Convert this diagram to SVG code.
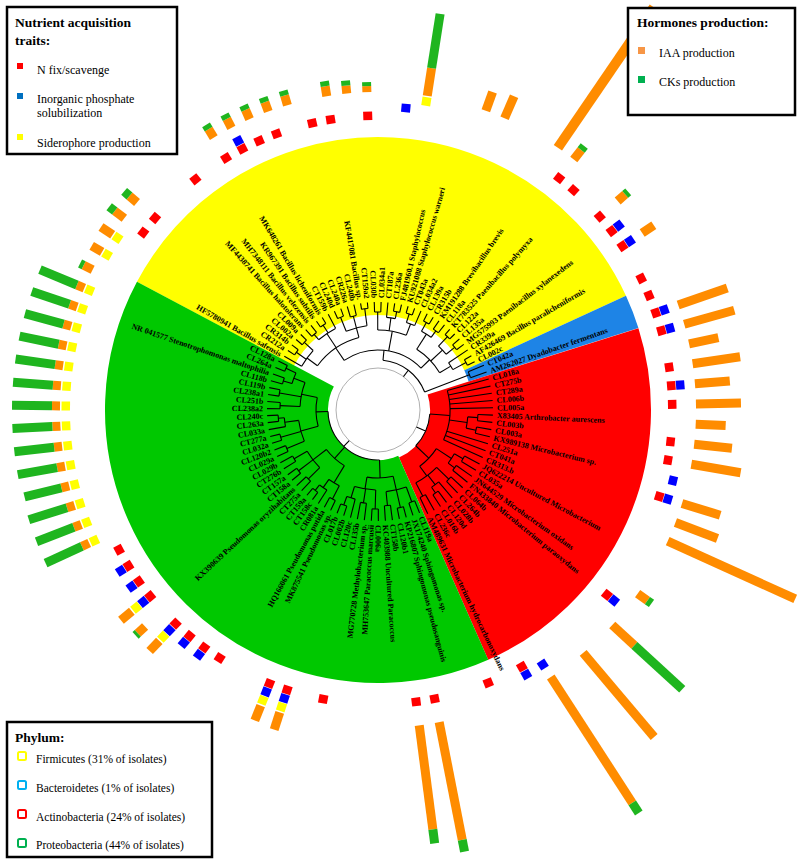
<svg xmlns="http://www.w3.org/2000/svg" width="800" height="863" viewBox="0 0 800 863">
<style>
.lb{font:bold 8px "Liberation Serif","Times New Roman",serif;fill:#000}
.L{text-anchor:end}
.ia{fill:#ff8c00}
.ck{fill:#1fb51f}
.br line,.br circle{stroke:#000;stroke-width:1.1;fill:none}
.lg{font:12px "Liberation Serif","Times New Roman",serif;fill:#000}
.lt{font:bold 13.5px "Liberation Serif","Times New Roman",serif;fill:#000}
.box{fill:#fff;stroke:#000;stroke-width:2.5}
</style>
<defs>
<rect id="N" x="290" y="-4.5" width="8.5" height="9" fill="#f00"/>
<rect id="P" x="299" y="-4.5" width="8.5" height="9" fill="#00f"/>
<rect id="S" x="308" y="-4.5" width="8.5" height="9" fill="#ff0"/>
</defs>
<rect width="800" height="863" fill="#fff"/>
<g id="clades" transform="translate(378 410)" fill="none">
<circle r="184" stroke="#ffff00" stroke-width="178" pathLength="360" stroke-dasharray="127.27 400" transform="rotate(208)"/>
<circle r="184" stroke="#1e84e6" stroke-width="178" pathLength="360" stroke-dasharray="7.28 400" transform="rotate(335.27)"/>
<circle r="162.5" stroke="#ff0000" stroke-width="221" pathLength="360" stroke-dasharray="83.63 400" transform="rotate(342.55)"/>
<circle r="161.5" stroke="#00c800" stroke-width="223" pathLength="360" stroke-dasharray="141.82 400" transform="rotate(426.18)"/>
</g>
<g id="tree" class="br" transform="translate(378 410)">
<circle r="42" style="stroke:#9a9a9a;stroke-width:0.8"/>
<line x1="88" x2="108" transform="rotate(209.82)"/>
<circle r="100" pathLength="360" stroke-dasharray="3.64 400" transform="rotate(213.45)"/><line x1="100" x2="108" transform="rotate(213.45)"/><line x1="100" x2="108" transform="rotate(217.09)"/><line x1="88" x2="100" transform="rotate(215.27)"/>
<circle r="100" pathLength="360" stroke-dasharray="3.63 400" transform="rotate(220.73)"/><line x1="100" x2="108" transform="rotate(220.73)"/><line x1="100" x2="108" transform="rotate(224.36)"/><line x1="88" x2="100" transform="rotate(222.55)"/>
<circle r="88" pathLength="360" stroke-dasharray="12.73 400" transform="rotate(209.82)"/><line x1="75" x2="88" transform="rotate(216.18)"/>
<circle r="99" pathLength="360" stroke-dasharray="3.64 400" transform="rotate(228)"/><line x1="99" x2="108" transform="rotate(228)"/><line x1="99" x2="108" transform="rotate(231.64)"/><line x1="92" x2="99" transform="rotate(229.82)"/>
<circle r="101" pathLength="360" stroke-dasharray="3.64 400" transform="rotate(235.27)"/><line x1="101" x2="108" transform="rotate(235.27)"/><line x1="101" x2="108" transform="rotate(238.91)"/><line x1="92" x2="101" transform="rotate(237.09)"/>
<line x1="92" x2="108" transform="rotate(242.55)"/>
<circle r="92" pathLength="360" stroke-dasharray="12.73 400" transform="rotate(229.82)"/><line x1="75" x2="92" transform="rotate(236.18)"/>
<circle r="100" pathLength="360" stroke-dasharray="3.64 400" transform="rotate(246.18)"/><line x1="100" x2="108" transform="rotate(246.18)"/><line x1="100" x2="108" transform="rotate(249.82)"/><line x1="85" x2="100" transform="rotate(248)"/>
<circle r="97" pathLength="360" stroke-dasharray="3.64 400" transform="rotate(253.45)"/><line x1="97" x2="108" transform="rotate(253.45)"/><line x1="97" x2="108" transform="rotate(257.09)"/><line x1="85" x2="97" transform="rotate(255.27)"/>
<circle r="102" pathLength="360" stroke-dasharray="3.63 400" transform="rotate(260.73)"/><line x1="102" x2="108" transform="rotate(260.73)"/><line x1="102" x2="108" transform="rotate(264.36)"/><line x1="85" x2="102" transform="rotate(262.55)"/>
<circle r="85" pathLength="360" stroke-dasharray="14.55 400" transform="rotate(248)"/><line x1="75" x2="85" transform="rotate(255.27)"/>
<circle r="75" pathLength="360" stroke-dasharray="39.09 400" transform="rotate(216.18)"/><line x1="60" x2="75" transform="rotate(235.73)"/>
<circle r="98" pathLength="360" stroke-dasharray="3.64 400" transform="rotate(268)"/><line x1="98" x2="108" transform="rotate(268)"/><line x1="98" x2="108" transform="rotate(271.64)"/><line x1="80" x2="98" transform="rotate(269.82)"/>
<line x1="93" x2="108" transform="rotate(275.27)"/><circle r="100" pathLength="360" stroke-dasharray="3.64 400" transform="rotate(278.91)"/><line x1="100" x2="108" transform="rotate(278.91)"/><line x1="100" x2="108" transform="rotate(282.55)"/><line x1="93" x2="100" transform="rotate(280.73)"/><circle r="93" pathLength="360" stroke-dasharray="5.46 400" transform="rotate(275.27)"/><line x1="80" x2="93" transform="rotate(278)"/>
<circle r="101" pathLength="360" stroke-dasharray="3.64 400" transform="rotate(286.18)"/><line x1="101" x2="108" transform="rotate(286.18)"/><line x1="101" x2="108" transform="rotate(289.82)"/><line x1="92" x2="101" transform="rotate(288)"/><line x1="92" x2="108" transform="rotate(293.45)"/><circle r="92" pathLength="360" stroke-dasharray="5.45 400" transform="rotate(288)"/><line x1="80" x2="92" transform="rotate(290.73)"/>
<circle r="80" pathLength="360" stroke-dasharray="20.91 400" transform="rotate(269.82)"/><line x1="60" x2="80" transform="rotate(280.27)"/>
<circle r="100" pathLength="360" stroke-dasharray="3.64 400" transform="rotate(297.09)"/><line x1="100" x2="108" transform="rotate(297.09)"/><line x1="100" x2="108" transform="rotate(300.73)"/><line x1="90" x2="100" transform="rotate(298.91)"/>
<circle r="98" pathLength="360" stroke-dasharray="3.64 400" transform="rotate(304.36)"/><line x1="98" x2="108" transform="rotate(304.36)"/><line x1="98" x2="108" transform="rotate(308)"/><line x1="90" x2="98" transform="rotate(306.18)"/>
<circle r="90" pathLength="360" stroke-dasharray="7.27 400" transform="rotate(298.91)"/><line x1="72" x2="90" transform="rotate(302.55)"/>
<circle r="101" pathLength="360" stroke-dasharray="3.63 400" transform="rotate(311.64)"/><line x1="101" x2="108" transform="rotate(311.64)"/><line x1="101" x2="108" transform="rotate(315.27)"/><line x1="88" x2="101" transform="rotate(313.45)"/>
<circle r="99" pathLength="360" stroke-dasharray="3.64 400" transform="rotate(318.91)"/><line x1="99" x2="108" transform="rotate(318.91)"/><line x1="99" x2="108" transform="rotate(322.55)"/><line x1="88" x2="99" transform="rotate(320.73)"/>
<circle r="88" pathLength="360" stroke-dasharray="7.28 400" transform="rotate(313.45)"/><line x1="72" x2="88" transform="rotate(317.09)"/>
<line x1="85" x2="108" transform="rotate(326.18)"/><circle r="100" pathLength="360" stroke-dasharray="3.63 400" transform="rotate(329.82)"/><line x1="100" x2="108" transform="rotate(329.82)"/><line x1="100" x2="108" transform="rotate(333.45)"/><line x1="85" x2="100" transform="rotate(331.64)"/><circle r="85" pathLength="360" stroke-dasharray="5.46 400" transform="rotate(326.18)"/><line x1="72" x2="85" transform="rotate(328.91)"/>
<circle r="72" pathLength="360" stroke-dasharray="26.36 400" transform="rotate(302.55)"/><line x1="60" x2="72" transform="rotate(315.73)"/>
<circle r="60" pathLength="360" stroke-dasharray="80 400" transform="rotate(235.73)"/><line x1="50" x2="60" transform="rotate(275.73)"/>
<circle r="98" pathLength="360" stroke-dasharray="3.64 400" transform="rotate(337.09)"/><line x1="98" x2="115" transform="rotate(337.09)"/><line x1="98" x2="115" transform="rotate(340.73)"/><line x1="50" x2="98" transform="rotate(338.91)"/>
<circle r="50" pathLength="360" stroke-dasharray="63.18 400" transform="rotate(275.73)"/><line x1="42" x2="50" transform="rotate(307.32)"/>
<line x1="72" x2="115" transform="rotate(344.36)"/><line x1="72" x2="115" transform="rotate(348)"/><line x1="72" x2="115" transform="rotate(351.64)"/><line x1="72" x2="115" transform="rotate(355.27)"/><line x1="72" x2="115" transform="rotate(358.91)"/>
<circle r="100" pathLength="360" stroke-dasharray="3.63 400" transform="rotate(362.55)"/><line x1="100" x2="115" transform="rotate(362.55)"/><line x1="100" x2="115" transform="rotate(366.18)"/><line x1="90" x2="100" transform="rotate(364.36)"/>
<circle r="100" pathLength="360" stroke-dasharray="3.63 400" transform="rotate(369.82)"/><line x1="100" x2="115" transform="rotate(369.82)"/><line x1="100" x2="115" transform="rotate(373.45)"/><line x1="90" x2="100" transform="rotate(371.64)"/>
<circle r="90" pathLength="360" stroke-dasharray="7.28 400" transform="rotate(364.36)"/><line x1="72" x2="90" transform="rotate(368)"/>
<line x1="72" x2="115" transform="rotate(377.09)"/><line x1="72" x2="115" transform="rotate(380.73)"/><line x1="72" x2="115" transform="rotate(384.36)"/>
<circle r="72" pathLength="360" stroke-dasharray="40 400" transform="rotate(344.36)"/><line x1="52" x2="72" transform="rotate(364.36)"/>
<circle r="98" pathLength="360" stroke-dasharray="3.64 400" transform="rotate(388)"/><line x1="98" x2="115" transform="rotate(388)"/><line x1="98" x2="115" transform="rotate(391.64)"/><line x1="88" x2="98" transform="rotate(389.82)"/>
<circle r="96" pathLength="360" stroke-dasharray="3.64 400" transform="rotate(395.27)"/><line x1="96" x2="115" transform="rotate(395.27)"/><line x1="96" x2="115" transform="rotate(398.91)"/><line x1="88" x2="96" transform="rotate(397.09)"/>
<circle r="88" pathLength="360" stroke-dasharray="7.27 400" transform="rotate(389.82)"/><line x1="70" x2="88" transform="rotate(393.45)"/>
<circle r="99" pathLength="360" stroke-dasharray="3.63 400" transform="rotate(402.55)"/><line x1="99" x2="115" transform="rotate(402.55)"/><line x1="99" x2="115" transform="rotate(406.18)"/><line x1="82" x2="99" transform="rotate(404.36)"/>
<line x1="94" x2="115" transform="rotate(409.82)"/><circle r="101" pathLength="360" stroke-dasharray="3.64 400" transform="rotate(413.45)"/><line x1="101" x2="115" transform="rotate(413.45)"/><line x1="101" x2="115" transform="rotate(417.09)"/><line x1="94" x2="101" transform="rotate(415.27)"/><circle r="94" pathLength="360" stroke-dasharray="5.45 400" transform="rotate(409.82)"/><line x1="82" x2="94" transform="rotate(412.55)"/>
<circle r="97" pathLength="360" stroke-dasharray="3.63 400" transform="rotate(420.73)"/><line x1="97" x2="115" transform="rotate(420.73)"/><line x1="97" x2="115" transform="rotate(424.36)"/><line x1="82" x2="97" transform="rotate(422.55)"/>
<circle r="82" pathLength="360" stroke-dasharray="18.19 400" transform="rotate(404.36)"/><line x1="70" x2="82" transform="rotate(413.45)"/>
<circle r="70" pathLength="360" stroke-dasharray="20 400" transform="rotate(393.45)"/><line x1="52" x2="70" transform="rotate(403.45)"/>
<circle r="52" pathLength="360" stroke-dasharray="39.09 400" transform="rotate(364.36)"/><line x1="42" x2="52" transform="rotate(383.91)"/>
<circle r="98" pathLength="360" stroke-dasharray="3.64 400" transform="rotate(428)"/><line x1="98" x2="111" transform="rotate(428)"/><line x1="98" x2="111" transform="rotate(431.64)"/><line x1="82" x2="98" transform="rotate(429.82)"/>
<circle r="100" pathLength="360" stroke-dasharray="3.64 400" transform="rotate(435.27)"/><line x1="100" x2="111" transform="rotate(435.27)"/><line x1="100" x2="111" transform="rotate(438.91)"/><line x1="82" x2="100" transform="rotate(437.09)"/>
<circle r="96" pathLength="360" stroke-dasharray="3.63 400" transform="rotate(442.55)"/><line x1="96" x2="111" transform="rotate(442.55)"/><line x1="96" x2="111" transform="rotate(446.18)"/><line x1="82" x2="96" transform="rotate(444.36)"/>
<circle r="82" pathLength="360" stroke-dasharray="14.54 400" transform="rotate(429.82)"/><line x1="68" x2="82" transform="rotate(437.09)"/>
<circle r="99" pathLength="360" stroke-dasharray="3.63 400" transform="rotate(449.82)"/><line x1="99" x2="111" transform="rotate(449.82)"/><line x1="99" x2="111" transform="rotate(453.45)"/><line x1="80" x2="99" transform="rotate(451.64)"/>
<circle r="94" pathLength="360" stroke-dasharray="3.64 400" transform="rotate(457.09)"/><line x1="94" x2="111" transform="rotate(457.09)"/><line x1="94" x2="111" transform="rotate(460.73)"/><line x1="80" x2="94" transform="rotate(458.91)"/>
<line x1="92" x2="111" transform="rotate(464.36)"/><circle r="101" pathLength="360" stroke-dasharray="3.64 400" transform="rotate(468)"/><line x1="101" x2="111" transform="rotate(468)"/><line x1="101" x2="111" transform="rotate(471.64)"/><line x1="92" x2="101" transform="rotate(469.82)"/><circle r="92" pathLength="360" stroke-dasharray="5.46 400" transform="rotate(464.36)"/><line x1="80" x2="92" transform="rotate(467.09)"/>
<circle r="80" pathLength="360" stroke-dasharray="15.45 400" transform="rotate(451.64)"/><line x1="68" x2="80" transform="rotate(459.36)"/>
<circle r="68" pathLength="360" stroke-dasharray="22.27 400" transform="rotate(437.09)"/><line x1="50" x2="68" transform="rotate(448.23)"/>
<circle r="100" pathLength="360" stroke-dasharray="3.64 400" transform="rotate(475.27)"/><line x1="100" x2="111" transform="rotate(475.27)"/><line x1="100" x2="111" transform="rotate(478.91)"/><line x1="85" x2="100" transform="rotate(477.09)"/>
<line x1="95" x2="111" transform="rotate(482.55)"/><circle r="102" pathLength="360" stroke-dasharray="3.64 400" transform="rotate(486.18)"/><line x1="102" x2="111" transform="rotate(486.18)"/><line x1="102" x2="111" transform="rotate(489.82)"/><line x1="95" x2="102" transform="rotate(488)"/><circle r="95" pathLength="360" stroke-dasharray="5.45 400" transform="rotate(482.55)"/><line x1="85" x2="95" transform="rotate(485.27)"/>
<circle r="85" pathLength="360" stroke-dasharray="8.18 400" transform="rotate(477.09)"/><line x1="65" x2="85" transform="rotate(481.18)"/>
<circle r="98" pathLength="360" stroke-dasharray="3.64 400" transform="rotate(493.45)"/><line x1="98" x2="111" transform="rotate(493.45)"/><line x1="98" x2="111" transform="rotate(497.09)"/><line x1="82" x2="98" transform="rotate(495.27)"/>
<circle r="100" pathLength="360" stroke-dasharray="3.63 400" transform="rotate(500.73)"/><line x1="100" x2="111" transform="rotate(500.73)"/><line x1="100" x2="111" transform="rotate(504.36)"/><line x1="82" x2="100" transform="rotate(502.55)"/>
<circle r="97" pathLength="360" stroke-dasharray="3.64 400" transform="rotate(508)"/><line x1="97" x2="111" transform="rotate(508)"/><line x1="97" x2="111" transform="rotate(511.64)"/><line x1="82" x2="97" transform="rotate(509.82)"/>
<circle r="82" pathLength="360" stroke-dasharray="14.55 400" transform="rotate(495.27)"/><line x1="65" x2="82" transform="rotate(502.55)"/>
<circle r="65" pathLength="360" stroke-dasharray="21.37 400" transform="rotate(481.18)"/><line x1="50" x2="65" transform="rotate(491.86)"/>
<circle r="99" pathLength="360" stroke-dasharray="3.64 400" transform="rotate(515.27)"/><line x1="99" x2="111" transform="rotate(515.27)"/><line x1="99" x2="111" transform="rotate(518.91)"/><line x1="80" x2="99" transform="rotate(517.09)"/>
<circle r="101" pathLength="360" stroke-dasharray="3.63 400" transform="rotate(522.55)"/><line x1="101" x2="111" transform="rotate(522.55)"/><line x1="101" x2="111" transform="rotate(526.18)"/><line x1="80" x2="101" transform="rotate(524.36)"/>
<line x1="94" x2="111" transform="rotate(529.82)"/><circle r="100" pathLength="360" stroke-dasharray="3.64 400" transform="rotate(533.45)"/><line x1="100" x2="111" transform="rotate(533.45)"/><line x1="100" x2="111" transform="rotate(537.09)"/><line x1="94" x2="100" transform="rotate(535.27)"/><circle r="94" pathLength="360" stroke-dasharray="5.45 400" transform="rotate(529.82)"/><line x1="80" x2="94" transform="rotate(532.55)"/>
<circle r="80" pathLength="360" stroke-dasharray="15.46 400" transform="rotate(517.09)"/><line x1="62" x2="80" transform="rotate(524.82)"/>
<circle r="98" pathLength="360" stroke-dasharray="3.63 400" transform="rotate(540.73)"/><line x1="98" x2="111" transform="rotate(540.73)"/><line x1="98" x2="111" transform="rotate(544.36)"/><line x1="78" x2="98" transform="rotate(542.55)"/>
<circle r="100" pathLength="360" stroke-dasharray="3.64 400" transform="rotate(548)"/><line x1="100" x2="111" transform="rotate(548)"/><line x1="100" x2="111" transform="rotate(551.64)"/><line x1="78" x2="100" transform="rotate(549.82)"/>
<circle r="99" pathLength="360" stroke-dasharray="3.64 400" transform="rotate(555.27)"/><line x1="99" x2="111" transform="rotate(555.27)"/><line x1="99" x2="111" transform="rotate(558.91)"/><line x1="90" x2="99" transform="rotate(557.09)"/>
<circle r="101" pathLength="360" stroke-dasharray="3.63 400" transform="rotate(562.55)"/><line x1="101" x2="111" transform="rotate(562.55)"/><line x1="101" x2="111" transform="rotate(566.18)"/><line x1="90" x2="101" transform="rotate(564.36)"/>
<circle r="90" pathLength="360" stroke-dasharray="7.27 400" transform="rotate(557.09)"/><line x1="78" x2="90" transform="rotate(560.73)"/>
<circle r="78" pathLength="360" stroke-dasharray="18.18 400" transform="rotate(542.55)"/><line x1="62" x2="78" transform="rotate(551.64)"/>
<circle r="62" pathLength="360" stroke-dasharray="26.82 400" transform="rotate(524.82)"/><line x1="50" x2="62" transform="rotate(538.23)"/>
<circle r="50" pathLength="360" stroke-dasharray="90 400" transform="rotate(448.23)"/><line x1="42" x2="50" transform="rotate(493.23)"/>
</g>
<g id="leaves" transform="translate(378 410)">
<g id="n0" transform="rotate(209.82)"><text class="lb L" transform="rotate(180)" x="-112" y="2.8">HF5780941 Bacillus safensis</text><use href="#S"/><rect class="ia" x="318" y="-4.5" width="12" height="9"/></g>
<g id="n1" transform="rotate(213.45)"><text class="lb L" transform="rotate(180)" x="-112" y="2.8">CR212a</text><use href="#S"/><rect class="ia" x="318" y="-4.5" width="14" height="9"/></g>
<g id="n2" transform="rotate(217.09)"><text class="lb L" transform="rotate(180)" x="-112" y="2.8">CR314b</text><use href="#N"/><rect class="ia" x="318" y="-4.5" width="12" height="9"/><rect class="ck" x="330" y="-4.5" width="7" height="9"/></g>
<g id="n3" transform="rotate(220.73)"><text class="lb L" transform="rotate(180)" x="-112" y="2.8">CL002a</text><use href="#N"/><rect class="ia" x="318" y="-4.5" width="10" height="9"/><rect class="ck" x="328" y="-4.5" width="7" height="9"/></g>
<g id="n4" transform="rotate(224.36)"><text class="lb L" transform="rotate(180)" x="-112" y="2.8">CL009a</text></g>
<g id="n5" transform="rotate(228)"><text class="lb L" transform="rotate(180)" x="-112" y="2.8">MF4438741 Bacillus halotolerans</text></g>
<g id="n6" transform="rotate(231.64)"><text class="lb L" transform="rotate(180)" x="-112" y="2.8">MH7348111 Bacillus velezensis</text><use href="#N"/></g>
<g id="n7" transform="rotate(235.27)"><text class="lb L" transform="rotate(180)" x="-112" y="2.8">KR967391 Bacillus subtilis</text></g>
<g id="n8" transform="rotate(238.91)"><text class="lb L" transform="rotate(180)" x="-112" y="2.8">MK648261 Bacillus licheniformis</text><use href="#N"/><rect class="ia" x="318" y="-4.5" width="10" height="9"/><rect class="ck" x="328" y="-4.5" width="5" height="9"/></g>
<g id="n9" transform="rotate(242.55)"><text class="lb L" transform="rotate(180)" x="-112" y="2.8">CT159b</text><use href="#N"/><use href="#P"/><rect class="ia" x="318" y="-4.5" width="10" height="9"/><rect class="ck" x="328" y="-4.5" width="5" height="9"/></g>
<g id="n10" transform="rotate(246.18)"><text class="lb L" transform="rotate(180)" x="-112" y="2.8">CL240d</text><use href="#N"/><rect class="ia" x="318" y="-4.5" width="10" height="9"/><rect class="ck" x="328" y="-4.5" width="5" height="9"/></g>
<g id="n11" transform="rotate(249.82)"><text class="lb L" transform="rotate(180)" x="-112" y="2.8">CL240a</text><use href="#N"/><rect class="ia" x="318" y="-4.5" width="10" height="9"/><rect class="ck" x="328" y="-4.5" width="5" height="9"/></g>
<g id="n12" transform="rotate(253.45)"><text class="lb L" transform="rotate(180)" x="-112" y="2.8">CR226a</text><rect class="ia" x="318" y="-4.5" width="10" height="9"/><rect class="ck" x="328" y="-4.5" width="5" height="9"/></g>
<g id="n13" transform="rotate(257.09)"><text class="lb L" transform="rotate(180)" x="-112" y="2.8">CL240b</text><use href="#N"/></g>
<g id="n14" transform="rotate(260.73)"><text class="lb L" transform="rotate(180)" x="-112" y="2.8">KF4417081 Bacillus sp.</text><use href="#N"/><rect class="ia" x="318" y="-4.5" width="10" height="9"/><rect class="ck" x="328" y="-4.5" width="5" height="9"/></g>
<g id="n15" transform="rotate(264.36)"><text class="lb L" transform="rotate(180)" x="-112" y="2.8">CT159a2</text><rect class="ia" x="318" y="-4.5" width="8" height="9"/><rect class="ck" x="326" y="-4.5" width="5" height="9"/></g>
<g id="n16" transform="rotate(268)"><text class="lb L" transform="rotate(180)" x="-112" y="2.8">CL030b</text><use href="#N"/><rect class="ia" x="318" y="-4.5" width="6" height="9"/><rect class="ck" x="324" y="-4.5" width="4" height="9"/></g>
<g id="n17" transform="rotate(271.64)"><text class="lb" x="112" y="2.8">CL034a1</text></g>
<g id="n18" transform="rotate(275.27)"><text class="lb" x="112" y="2.8">CT187a</text><use href="#P"/></g>
<g id="n19" transform="rotate(278.91)"><text class="lb" x="112" y="2.8">CL236a</text><use href="#S"/><rect class="ia" x="318" y="-4.5" width="28" height="9"/><rect class="ck" x="346" y="-4.5" width="55" height="9"/></g>
<g id="n20" transform="rotate(282.55)"><text class="lb" x="112" y="2.8">FJ481960.1 Staphylococcus</text></g>
<g id="n21" transform="rotate(286.18)"><text class="lb" x="112" y="2.8">KU921088 Staphylococcus warneri</text></g>
<g id="n22" transform="rotate(289.82)"><text class="lb" x="112" y="2.8">CT043a</text><rect class="ia" x="318" y="-4.5" width="20" height="9"/></g>
<g id="n23" transform="rotate(293.45)"><text class="lb" x="112" y="2.8">CL034a2</text><rect class="ia" x="318" y="-4.5" width="24" height="9"/></g>
<g id="n24" transform="rotate(297.09)"><text class="lb" x="112" y="2.8">CL139a</text></g>
<g id="n25" transform="rotate(300.73)"><text class="lb" x="112" y="2.8">CR315b</text></g>
<g id="n26" transform="rotate(304.36)"><text class="lb" x="112" y="2.8">KM191288 Brevibacillus brevis</text><rect class="ia" x="318" y="-4.5" width="170" height="10"/></g>
<g id="n27" transform="rotate(308)"><text class="lb" x="112" y="2.8">CL118a</text><use href="#N"/><rect class="ia" x="318" y="-4.5" width="12" height="9"/><rect class="ck" x="330" y="-4.5" width="5" height="9"/></g>
<g id="n28" transform="rotate(311.64)"><text class="lb" x="112" y="2.8">KT783525 Paenibacillus polymyxa</text><use href="#N"/></g>
<g id="n29" transform="rotate(315.27)"><text class="lb" x="112" y="2.8">CL122a</text></g>
<g id="n30" transform="rotate(318.91)"><text class="lb" x="112" y="2.8">CL135a</text><use href="#N"/><rect class="ia" x="318" y="-4.5" width="10" height="9"/><rect class="ck" x="328" y="-4.5" width="4" height="9"/></g>
<g id="n31" transform="rotate(322.55)"><text class="lb" x="112" y="2.8">MG575993 Paenibacillus xylanexedens</text><use href="#N"/><use href="#P"/></g>
<g id="n32" transform="rotate(326.18)"><text class="lb" x="112" y="2.8">CR339a</text><use href="#N"/><use href="#P"/><rect class="ia" x="318" y="-4.5" width="14" height="9"/></g>
<g id="n33" transform="rotate(329.82)"><text class="lb" x="112" y="2.8">AF426469 Bacillus paralicheniformis</text></g>
<g id="n34" transform="rotate(333.45)"><text class="lb" x="112" y="2.8">CL002c</text><use href="#N"/></g>
<g id="n35" transform="rotate(337.09)"><text class="lb" x="119" y="2.8">CT042a</text><use href="#N"/></g>
<g id="n36" transform="rotate(340.73)"><text class="lb" x="119" y="2.8">AM262027 Dyadobacter fermentans</text><use href="#N"/><use href="#P"/><rect class="ia" x="318" y="-4.5" width="52" height="9"/></g>
<g id="n37" transform="rotate(344.36)"><text class="lb" x="119" y="2.8">CL018a</text><use href="#N"/><use href="#P"/><rect class="ia" x="318" y="-4.5" width="52" height="9"/></g>
<g id="n38" transform="rotate(348)"><text class="lb" x="119" y="2.8">CT275b</text><rect class="ia" x="318" y="-4.5" width="30" height="9"/></g>
<g id="n39" transform="rotate(351.64)"><text class="lb" x="119" y="2.8">CT289a</text><use href="#N"/><rect class="ia" x="318" y="-4.5" width="48" height="9"/></g>
<g id="n40" transform="rotate(355.27)"><text class="lb" x="119" y="2.8">CL006b</text><use href="#N"/><use href="#P"/><rect class="ia" x="318" y="-4.5" width="35" height="9"/></g>
<g id="n41" transform="rotate(358.91)"><text class="lb" x="119" y="2.8">CL005a</text><use href="#N"/><rect class="ia" x="318" y="-4.5" width="45" height="9"/></g>
<g id="n42" transform="rotate(362.55)"><text class="lb" x="119" y="2.8">X83405 Arthrobacter aurescens</text><rect class="ia" x="318" y="-4.5" width="30" height="9"/></g>
<g id="n43" transform="rotate(366.18)"><text class="lb" x="119" y="2.8">CL003b</text><use href="#N"/><rect class="ia" x="318" y="-4.5" width="38" height="9"/></g>
<g id="n44" transform="rotate(369.82)"><text class="lb" x="119" y="2.8">CL003a</text><use href="#N"/><rect class="ia" x="318" y="-4.5" width="50" height="9"/></g>
<g id="n45" transform="rotate(373.45)"><text class="lb" x="119" y="2.8">KX989138 Microbacterium sp.</text><use href="#P"/></g>
<g id="n46" transform="rotate(377.09)"><text class="lb" x="119" y="2.8">CL251a</text><use href="#N"/><use href="#P"/><rect class="ia" x="318" y="-4.5" width="40" height="9"/></g>
<g id="n47" transform="rotate(380.73)"><text class="lb" x="119" y="2.8">CT041a</text><rect class="ia" x="318" y="-4.5" width="45" height="9"/></g>
<g id="n48" transform="rotate(384.36)"><text class="lb" x="119" y="2.8">CR313.b</text><rect class="ia" x="318" y="-4.5" width="140" height="9"/></g>
<g id="n49" transform="rotate(388)"><text class="lb" x="119" y="2.8">JQ622214 Uncultured Microbacterium</text></g>
<g id="n50" transform="rotate(391.64)"><text class="lb" x="119" y="2.8">CL035a</text></g>
<g id="n51" transform="rotate(395.27)"><text class="lb" x="119" y="2.8">JN644529 Microbacterium oxidans</text><rect class="ia" x="318" y="-4.5" width="12" height="9"/><rect class="ck" x="330" y="-4.5" width="5" height="9"/></g>
<g id="n52" transform="rotate(398.91)"><text class="lb" x="119" y="2.8">FN433840 Microbacterium paraoxydans</text><use href="#N"/><use href="#P"/></g>
<g id="n53" transform="rotate(402.55)"><text class="lb" x="119" y="2.8">CL064b</text><rect class="ia" x="318" y="-4.5" width="30" height="9"/><rect class="ck" x="348" y="-4.5" width="65" height="9"/></g>
<g id="n54" transform="rotate(406.18)"><text class="lb" x="119" y="2.8">CL264b</text></g>
<g id="n55" transform="rotate(409.82)"><text class="lb" x="119" y="2.8">CL028b</text><rect class="ia" x="318" y="-4.5" width="110" height="9"/></g>
<g id="n56" transform="rotate(413.45)"><text class="lb" x="119" y="2.8">CL120d</text></g>
<g id="n57" transform="rotate(417.09)"><text class="lb" x="119" y="2.8">CL016b</text><use href="#P"/><rect class="ia" x="318" y="-4.5" width="150" height="9"/><rect class="ck" x="468" y="-4.5" width="12" height="9"/></g>
<g id="n58" transform="rotate(420.73)"><text class="lb" x="119" y="2.8">CL236c</text><use href="#N"/><use href="#P"/></g>
<g id="n59" transform="rotate(424.36)"><text class="lb" x="119" y="2.8">AM489631 Microbacterium hydrocarbonoxydans</text></g>
<g id="n60" transform="rotate(428)"><text class="lb" x="115" y="2.8">CL119a</text><use href="#N"/></g>
<g id="n61" transform="rotate(431.64)"><text class="lb" x="115" y="2.8">JX174240 Sphingomonas sp.</text></g>
<g id="n62" transform="rotate(435.27)"><text class="lb" x="115" y="2.8">KP216807 Sphingomonas pseudosanguinis</text></g>
<g id="n63" transform="rotate(438.91)"><text class="lb" x="115" y="2.8">CL120b1</text><use href="#N"/><rect class="ia" x="318" y="-4.5" width="120" height="9"/><rect class="ck" x="438" y="-4.5" width="12" height="9"/></g>
<g id="n64" transform="rotate(442.55)"><text class="lb" x="115" y="2.8">CT158b</text><use href="#N"/><rect class="ia" x="318" y="-4.5" width="105" height="9"/><rect class="ck" x="423" y="-4.5" width="14" height="9"/></g>
<g id="n65" transform="rotate(446.18)"><text class="lb" x="115" y="2.8">KC403988 Uncultured Paracoccus</text></g>
<g id="n66" transform="rotate(449.82)"><text class="lb" x="115" y="2.8">CL006a</text></g>
<g id="n67" transform="rotate(453.45)"><text class="lb L" transform="rotate(180)" x="-115" y="2.8">MH753647 Paracoccus marcusii</text></g>
<g id="n68" transform="rotate(457.09)"><text class="lb L" transform="rotate(180)" x="-115" y="2.8">MG770728 Methylobacterium sp.</text></g>
<g id="n69" transform="rotate(460.73)"><text class="lb L" transform="rotate(180)" x="-115" y="2.8">CL135b</text><use href="#N"/></g>
<g id="n70" transform="rotate(464.36)"><text class="lb L" transform="rotate(180)" x="-115" y="2.8">CL120c</text></g>
<g id="n71" transform="rotate(468)"><text class="lb L" transform="rotate(180)" x="-115" y="2.8">CL002b</text><use href="#N"/><use href="#P"/><use href="#S"/><rect class="ia" x="318" y="-4.5" width="18" height="9"/></g>
<g id="n72" transform="rotate(471.64)"><text class="lb L" transform="rotate(180)" x="-115" y="2.8">CL017b</text><use href="#N"/><use href="#P"/><use href="#S"/><rect class="ia" x="318" y="-4.5" width="16" height="9"/></g>
<g id="n73" transform="rotate(475.27)"><text class="lb L" transform="rotate(180)" x="-115" y="2.8">MK875541 Pseudomonas sp.</text></g>
<g id="n74" transform="rotate(478.91)"><text class="lb L" transform="rotate(180)" x="-115" y="2.8">HQ166061 Pseudomonas putida</text></g>
<g id="n75" transform="rotate(482.55)"><text class="lb L" transform="rotate(180)" x="-115" y="2.8">CR081a</text><use href="#N"/></g>
<g id="n76" transform="rotate(486.18)"><text class="lb L" transform="rotate(180)" x="-115" y="2.8">CT158c</text><use href="#N"/><use href="#P"/></g>
<g id="n77" transform="rotate(489.82)"><text class="lb L" transform="rotate(180)" x="-115" y="2.8">CT159a</text><use href="#N"/><use href="#P"/></g>
<g id="n78" transform="rotate(493.45)"><text class="lb L" transform="rotate(180)" x="-115" y="2.8">CT275a</text><use href="#N"/><use href="#P"/><use href="#S"/><rect class="ia" x="318" y="-4.5" width="14" height="9"/></g>
<g id="n79" transform="rotate(497.09)"><text class="lb L" transform="rotate(180)" x="-115" y="2.8">KX390639 Pseudomonas oryzihabitans</text><rect class="ia" x="318" y="-4.5" width="10" height="9"/><rect class="ck" x="328" y="-4.5" width="3" height="9"/></g>
<g id="n80" transform="rotate(500.73)"><text class="lb L" transform="rotate(180)" x="-115" y="2.8">CT158a</text><use href="#N"/><use href="#P"/><use href="#S"/><rect class="ia" x="318" y="-4.5" width="14" height="9"/></g>
<g id="n81" transform="rotate(504.36)"><text class="lb L" transform="rotate(180)" x="-115" y="2.8">CT157a</text><use href="#N"/><use href="#P"/></g>
<g id="n82" transform="rotate(508)"><text class="lb L" transform="rotate(180)" x="-115" y="2.8">CT276b</text><use href="#N"/><use href="#P"/></g>
<g id="n83" transform="rotate(511.64)"><text class="lb L" transform="rotate(180)" x="-115" y="2.8">CL029b</text><use href="#N"/></g>
<g id="n84" transform="rotate(515.27)"><text class="lb L" transform="rotate(180)" x="-115" y="2.8">CL029a</text><use href="#S"/><rect class="ia" x="318" y="-4.5" width="8" height="9"/><rect class="ck" x="326" y="-4.5" width="40" height="9"/></g>
<g id="n85" transform="rotate(518.91)"><text class="lb L" transform="rotate(180)" x="-115" y="2.8">CL120b2</text><use href="#S"/><rect class="ia" x="318" y="-4.5" width="8" height="9"/><rect class="ck" x="326" y="-4.5" width="40" height="9"/></g>
<g id="n86" transform="rotate(522.55)"><text class="lb L" transform="rotate(180)" x="-115" y="2.8">CL032a</text><use href="#S"/><rect class="ia" x="318" y="-4.5" width="8" height="9"/><rect class="ck" x="326" y="-4.5" width="40" height="9"/></g>
<g id="n87" transform="rotate(526.18)"><text class="lb L" transform="rotate(180)" x="-115" y="2.8">CT277a</text><use href="#S"/><rect class="ia" x="318" y="-4.5" width="8" height="9"/><rect class="ck" x="326" y="-4.5" width="38" height="9"/></g>
<g id="n88" transform="rotate(529.82)"><text class="lb L" transform="rotate(180)" x="-115" y="2.8">CL033a</text><use href="#S"/><rect class="ia" x="318" y="-4.5" width="8" height="9"/><rect class="ck" x="326" y="-4.5" width="40" height="9"/></g>
<g id="n89" transform="rotate(533.45)"><text class="lb L" transform="rotate(180)" x="-115" y="2.8">CL263a</text><use href="#S"/><rect class="ia" x="318" y="-4.5" width="8" height="9"/><rect class="ck" x="326" y="-4.5" width="40" height="9"/></g>
<g id="n90" transform="rotate(537.09)"><text class="lb L" transform="rotate(180)" x="-115" y="2.8">CL240c</text><use href="#S"/><rect class="ia" x="318" y="-4.5" width="8" height="9"/><rect class="ck" x="326" y="-4.5" width="40" height="9"/></g>
<g id="n91" transform="rotate(540.73)"><text class="lb L" transform="rotate(180)" x="-115" y="2.8">CL238a2</text><use href="#S"/><rect class="ia" x="318" y="-4.5" width="8" height="9"/><rect class="ck" x="326" y="-4.5" width="40" height="9"/></g>
<g id="n92" transform="rotate(544.36)"><text class="lb L" transform="rotate(180)" x="-115" y="2.8">CL251b</text><use href="#S"/><rect class="ia" x="318" y="-4.5" width="8" height="9"/><rect class="ck" x="326" y="-4.5" width="40" height="9"/></g>
<g id="n93" transform="rotate(548)"><text class="lb L" transform="rotate(180)" x="-115" y="2.8">CL238a1</text><use href="#S"/><rect class="ia" x="318" y="-4.5" width="8" height="9"/><rect class="ck" x="326" y="-4.5" width="40" height="9"/></g>
<g id="n94" transform="rotate(551.64)"><text class="lb L" transform="rotate(180)" x="-115" y="2.8">CL119b</text><use href="#S"/><rect class="ia" x="318" y="-4.5" width="8" height="9"/><rect class="ck" x="326" y="-4.5" width="40" height="9"/></g>
<g id="n95" transform="rotate(555.27)"><text class="lb L" transform="rotate(180)" x="-115" y="2.8">CL118b</text><use href="#S"/><rect class="ia" x="318" y="-4.5" width="8" height="9"/><rect class="ck" x="326" y="-4.5" width="40" height="9"/></g>
<g id="n96" transform="rotate(558.91)"><text class="lb L" transform="rotate(180)" x="-115" y="2.8">NR 041577 Stenotrophomonas maltophilia</text><use href="#S"/><rect class="ia" x="318" y="-4.5" width="8" height="9"/><rect class="ck" x="326" y="-4.5" width="40" height="9"/></g>
<g id="n97" transform="rotate(562.55)"><text class="lb L" transform="rotate(180)" x="-115" y="2.8">CL264a</text><use href="#S"/><rect class="ia" x="318" y="-4.5" width="8" height="9"/><rect class="ck" x="326" y="-4.5" width="40" height="9"/></g>
<g id="n98" transform="rotate(566.18)"><text class="lb L" transform="rotate(180)" x="-115" y="2.8">CL128a</text><rect class="ia" x="318" y="-4.5" width="10" height="9"/><rect class="ck" x="328" y="-4.5" width="4" height="9"/></g>
</g>
<g id="legend-nutrient">
<rect class="box" x="7" y="7" width="170" height="147"/>
<text class="lt" x="15" y="27">Nutrient acquisition</text>
<text class="lt" x="15" y="45">traits:</text>
<rect x="17" y="63" width="6" height="6" fill="#f00"/>
<text class="lg" x="37" y="74">N fix/scavenge</text>
<rect x="17" y="93" width="6" height="6" fill="#0070c0"/>
<text class="lg" x="37" y="103">Inorganic phosphate</text>
<text class="lg" x="37" y="117">solubilization</text>
<rect x="17" y="134" width="6" height="6" fill="#ff0"/>
<text class="lg" x="37" y="147">Siderophore production</text>
</g>
<g id="legend-hormones">
<rect class="box" x="628" y="8" width="167" height="107"/>
<text class="lt" x="637" y="27">Hormones production:</text>
<rect x="638" y="47" width="7" height="7" fill="#f79646"/>
<text class="lg" x="659" y="57">IAA production</text>
<rect x="638" y="76" width="7" height="7" fill="#00b050"/>
<text class="lg" x="659" y="86">CKs production</text>
</g>
<g id="legend-phylum">
<rect class="box" x="7" y="722" width="205" height="135"/>
<text class="lt" x="15" y="742">Phylum:</text>
<g fill="none" stroke-width="2">
<rect x="18" y="752" width="8" height="8" rx="1.5" stroke="#ffff00"/>
<rect x="18" y="781" width="8" height="8" rx="1.5" stroke="#00b0f0"/>
<rect x="18" y="810" width="8" height="8" rx="1.5" stroke="#ff0000"/>
<rect x="18" y="839" width="8" height="8" rx="1.5" stroke="#00b050"/>
</g>
<text class="lg" x="36" y="763" style="font-size:11.5px">Firmicutes (31% of isolates)</text>
<text class="lg" x="36" y="792" style="font-size:11.5px">Bacteroidetes (1% of isolates)</text>
<text class="lg" x="36" y="821" style="font-size:11.5px">Actinobacteria (24% of isolates)</text>
<text class="lg" x="36" y="849" style="font-size:11.5px">Proteobacteria (44% of isolates)</text>
</g>
</svg>
